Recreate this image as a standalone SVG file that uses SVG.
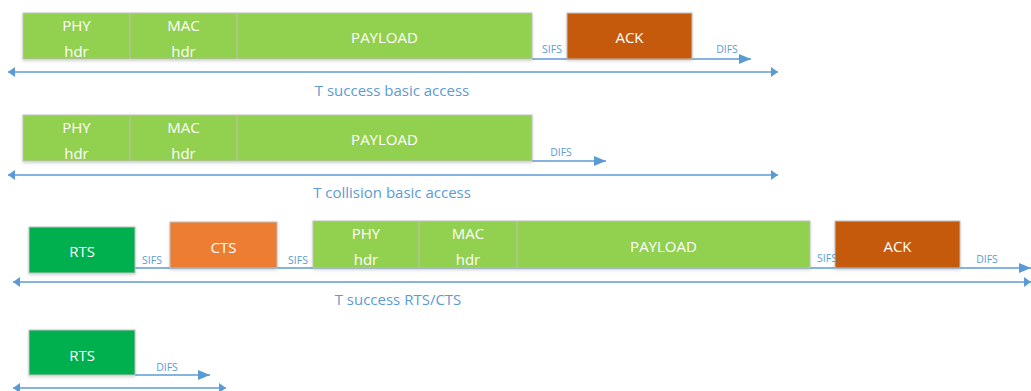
<svg xmlns="http://www.w3.org/2000/svg" width="1031" height="391" viewBox="0 0 1031 391">
  <style>
    .frame { stroke: #BFBFBF; stroke-width: 1; filter: url(#shadow); }
    .data { fill: #92D050; }
    .ack { fill: #C55A11; }
    .rts { fill: #00B050; }
    .cts { fill: #ED7D31; }
    .div { stroke: #BFBFBF; stroke-width: 1; }
    .lbl { font-family: "Open Sans", "Noto Sans", sans-serif; font-size: 15px; fill: #FFFFFF; text-anchor: middle; dominant-baseline: central; }
    .gap { font-family: "Open Sans", "Noto Sans", sans-serif; font-size: 10.5px; fill: #5B9BD5; text-anchor: middle; }
    .cap { font-family: "Open Sans", "Noto Sans", sans-serif; font-size: 15px; fill: #5B9BD5; text-anchor: middle; }
    .line { stroke: #5B9BD5; stroke-width: 1.5; fill: none; }
  </style>
  <defs>
    <filter id="shadow" x="-10%" y="-20%" width="120%" height="150%">
      <feDropShadow dx="0" dy="1.5" stdDeviation="1.5" flood-color="#000000" flood-opacity="0.18"/>
    </filter>
    <marker id="big" viewBox="0 0 12 10" refX="12" refY="5" markerWidth="12" markerHeight="10" markerUnits="userSpaceOnUse" orient="auto">
      <path d="M0,0 L12,5 L0,10 z" fill="#5B9BD5"/>
    </marker>
    <marker id="small" viewBox="0 0 7 10" refX="7" refY="5" markerWidth="7" markerHeight="10" markerUnits="userSpaceOnUse" orient="auto-start-reverse">
      <path d="M0,0 L7,5 L0,10 z" fill="#5B9BD5"/>
    </marker>
  </defs>

  <!-- timeline connectors -->
  <g id="connectors">
    <!-- basic access, success -->
    <line class="line" x1="532" y1="59" x2="751" y2="59" marker-end="url(#big)"/>
    <line class="line" x1="8" y1="72" x2="778" y2="72" marker-start="url(#small)" marker-end="url(#small)"/>
    <!-- basic access, collision -->
    <line class="line" x1="532" y1="161" x2="606" y2="161" marker-end="url(#big)"/>
    <line class="line" x1="8" y1="175" x2="778" y2="175" marker-start="url(#small)" marker-end="url(#small)"/>
    <!-- RTS/CTS, success -->
    <line class="line" x1="135" y1="268" x2="1031" y2="268" marker-end="url(#big)"/>
    <line class="line" x1="13" y1="282" x2="1031" y2="282" marker-start="url(#small)" marker-end="url(#small)"/>
    <!-- RTS/CTS, collision -->
    <line class="line" x1="135" y1="375" x2="210" y2="375" marker-end="url(#big)"/>
    <line class="line" x1="13" y1="388" x2="226" y2="388" marker-start="url(#small)" marker-end="url(#small)"/>
  </g>

  <!-- row 1: basic access success -->
  <g id="data1">
    <rect class="frame data" x="23" y="13" width="509" height="46"/>
    <line class="div" x1="130" y1="13" x2="130" y2="59"/>
    <line class="div" x1="237" y1="13" x2="237" y2="59"/>
    <text class="lbl" x="76.5" y="25">PHY</text>
    <text class="lbl" x="76.5" y="51">hdr</text>
    <text class="lbl" x="183.5" y="25">MAC</text>
    <text class="lbl" x="183.5" y="51">hdr</text>
    <text class="lbl" x="384.5" y="37">PAYLOAD</text>
  </g>
  <g id="ack1">
    <rect class="frame ack" x="567" y="13" width="125" height="46"/>
    <text class="lbl" x="629.5" y="37">ACK</text>
  </g>
  <g id="labels1">
    <text class="gap" x="552" y="53">SIFS</text>
    <text class="gap" x="727" y="53">DIFS</text>
    <text class="cap" x="392" y="96">T success basic access</text>
  </g>

  <!-- row 2: basic access collision -->
  <g id="data2">
    <rect class="frame data" x="23" y="115" width="509" height="46"/>
    <line class="div" x1="130" y1="115" x2="130" y2="161"/>
    <line class="div" x1="237" y1="115" x2="237" y2="161"/>
    <text class="lbl" x="76.5" y="127">PHY</text>
    <text class="lbl" x="76.5" y="153">hdr</text>
    <text class="lbl" x="183.5" y="127">MAC</text>
    <text class="lbl" x="183.5" y="153">hdr</text>
    <text class="lbl" x="384.5" y="139">PAYLOAD</text>
  </g>
  <g id="labels2">
    <text class="gap" x="561" y="156">DIFS</text>
    <text class="cap" x="392" y="198">T collision basic access</text>
  </g>

  <!-- row 3: RTS/CTS success -->
  <g id="rts3">
    <rect class="frame rts" x="29" y="227" width="106" height="46"/>
    <text class="lbl" x="82" y="251">RTS</text>
  </g>
  <g id="cts3">
    <rect class="frame cts" x="170" y="222" width="107" height="46"/>
    <text class="lbl" x="223.5" y="247">CTS</text>
  </g>
  <g id="data3">
    <rect class="frame data" x="313" y="221" width="497" height="47"/>
    <line class="div" x1="419" y1="221" x2="419" y2="268"/>
    <line class="div" x1="517" y1="221" x2="517" y2="268"/>
    <text class="lbl" x="366" y="233">PHY</text>
    <text class="lbl" x="366" y="259">hdr</text>
    <text class="lbl" x="468" y="233">MAC</text>
    <text class="lbl" x="468" y="259">hdr</text>
    <text class="lbl" x="663.5" y="246">PAYLOAD</text>
  </g>
  <g id="ack3">
    <rect class="frame ack" x="835" y="221" width="125" height="47"/>
    <text class="lbl" x="897.5" y="246">ACK</text>
  </g>
  <g id="labels3">
    <text class="gap" x="152" y="264">SIFS</text>
    <text class="gap" x="298" y="264">SIFS</text>
    <text class="gap" x="827" y="262">SIFS</text>
    <text class="gap" x="987" y="263">DIFS</text>
    <text class="cap" x="398" y="305">T success RTS/CTS</text>
  </g>

  <!-- row 4: RTS collision -->
  <g id="rts4">
    <rect class="frame rts" x="29" y="330" width="106" height="45"/>
    <text class="lbl" x="82" y="355">RTS</text>
  </g>
  <g id="labels4">
    <text class="gap" x="167" y="371">DIFS</text>
  </g>
</svg>
